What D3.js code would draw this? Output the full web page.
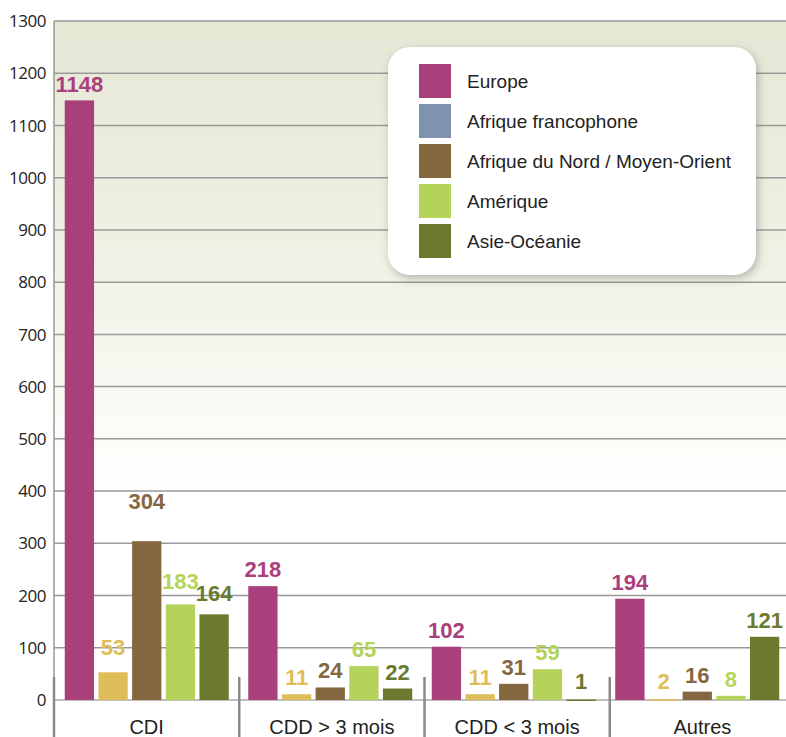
<!DOCTYPE html>
<html>
<head>
<meta charset="utf-8">
<script src="https://cdn.jsdelivr.net/npm/d3@7"></script>
<style>
  body { margin: 0; background: #fff; }
  svg { display: block; }
</style>
</head>
<body>
<svg id="svg" width="786" height="737"></svg>
<script>
(function() {
  'use strict';

  // data
  var categories = ["CDI", "CDD > 3 mois", "CDD < 3 mois", "Autres"];
  var regions = ["Europe", "Afrique francophone", "Afrique du Nord / Moyen-Orient", "Amérique", "Asie-Océanie"];
  var europe   = [1148, 218, 102, 194];
  var afrFranc = [53, 11, 11, 2];
  var afrNord  = [304, 24, 31, 16];
  var amerique = [183, 65, 59, 8];
  var asie     = [164, 22, 1, 121];
  var yTicks = [0, 100, 200, 300, 400, 500, 600, 700, 800, 900, 1000, 1100, 1200, 1300];

  var series = [europe, afrFranc, afrNord, amerique, asie];
  var barColors = ["#a9407c", "#dfbd58", "#84663f", "#b5d35a", "#6b7a2e"];
  var legendColors = ["#a9407c", "#7f93b0", "#84663f", "#b5d35a", "#6b7a2e"];

  // label gap above bar (px), a few were lifted higher in the original
  var labelGapDefault = 9;
  var labelGapCDI = [8, 17, 32, 15, 13];

  var svg = d3.select("#svg");
  var left = 54, top = 21, bottom = 700, right = 786;

  var y = d3.scaleLinear().domain([0, 1300]).range([bottom, top]);
  var x0 = d3.scaleBand().domain(categories).range([55, 789]).paddingInner(0).paddingOuter(0);
  var sep = d3.scaleBand().domain(categories).range([54, 795]);
  var x1 = d3.scaleBand().domain(d3.range(regions.length))
    .range([x0.bandwidth() / 2 - 82, x0.bandwidth() / 2 + 82]).paddingInner(0.13);

  // background gradient
  var defs = svg.append("defs");
  var grad = defs.append("linearGradient").attr("id", "bg")
    .attr("x1", 0).attr("y1", 0).attr("x2", 0).attr("y2", 1);
  grad.append("stop").attr("offset", "0%").attr("stop-color", "#e7e7d6");
  grad.append("stop").attr("offset", "35%").attr("stop-color", "#f0f0e4");
  grad.append("stop").attr("offset", "62%").attr("stop-color", "#fcfcf9");
  grad.append("stop").attr("offset", "70%").attr("stop-color", "#ffffff");
  grad.append("stop").attr("offset", "100%").attr("stop-color", "#ffffff");

  var shadow = defs.append("filter").attr("id", "shadow")
    .attr("x", "-10%").attr("y", "-10%").attr("width", "125%").attr("height", "130%");
  shadow.append("feDropShadow").attr("dx", 2).attr("dy", 3).attr("stdDeviation", 4)
    .attr("flood-color", "#666").attr("flood-opacity", 0.45);

  svg.append("rect").attr("x", left).attr("y", top)
    .attr("width", right - left).attr("height", bottom - top)
    .attr("fill", "url(#bg)");

  // grid lines
  svg.append("g").selectAll("line").data(yTicks).join("line")
    .attr("x1", left).attr("x2", right)
    .attr("y1", function(d) { return y(d); }).attr("y2", function(d) { return y(d); })
    .attr("stroke", function(d) { return d === 0 ? "#aaa" : "#999"; })
    .attr("stroke-width", 1.5);

  // y labels
  svg.append("g").selectAll("text").data(yTicks).join("text")
    .attr("x", 46).attr("y", function(d) { return y(d); })
    .attr("dy", "0.36em")
    .attr("text-anchor", "end")
    .attr("font-family", "'Open Sans', sans-serif")
    .attr("font-size", 17)
    .attr("letter-spacing", -0.5)
    .attr("fill", "#222")
    .text(function(d) { return d; });

  // left axis
  svg.append("line").attr("x1", left).attr("x2", left).attr("y1", top).attr("y2", 678)
    .attr("stroke", "#999").attr("stroke-width", 1.5);

  // group separators
  svg.append("g").selectAll("line").data(categories).join("line")
    .attr("x1", function(d) { return sep(d); }).attr("x2", function(d) { return sep(d); })
    .attr("y1", 677).attr("y2", 737)
    .attr("stroke", "#8a8a8a").attr("stroke-width", 2.5);

  // bars
  var groups = svg.append("g").selectAll("g").data(categories).join("g")
    .attr("transform", function(d) { return "translate(" + x0(d) + ",0)"; });

  groups.each(function(cat, ci) {
    var g = d3.select(this);
    var vals = series.map(function(s, si) { return { si: si, v: s[ci] }; });
    g.selectAll("rect").data(vals).join("rect")
      .attr("x", function(d) { return x1(d.si); })
      .attr("width", x1.bandwidth())
      .attr("y", function(d) { return y(d.v); })
      .attr("height", function(d) { return Math.max(bottom - y(d.v), 1.5); })
      .attr("fill", function(d) { return barColors[d.si]; });
    g.selectAll("text").data(vals).join("text")
      .attr("x", function(d) { return x1(d.si) + x1.bandwidth() / 2; })
      .attr("y", function(d) {
        var gap = ci === 0 ? labelGapCDI[d.si] : labelGapDefault;
        return Math.min(y(d.v), bottom - 2) - gap;
      })
      .attr("text-anchor", "middle")
      .attr("font-family", "'Liberation Sans Narrow', 'Arial Narrow', sans-serif")
      .attr("font-weight", "bold")
      .attr("font-size", 22)
      .attr("fill", function(d) { return barColors[d.si]; })
      .text(function(d) { return d.v; });
  });

  // category labels
  svg.append("g").selectAll("text").data(categories).join("text")
    .attr("x", function(d) { return sep(d) + sep.bandwidth() / 2; })
    .attr("y", 734)
    .attr("text-anchor", "middle")
    .attr("font-family", "'Liberation Sans', sans-serif")
    .attr("font-size", 20)
    .attr("fill", "#222")
    .text(function(d) { return d; });

  // legend
  var legend = svg.append("g").attr("transform", "translate(388,47)");
  legend.append("rect").attr("width", 368).attr("height", 228)
    .attr("rx", 22).attr("fill", "#fff").attr("filter", "url(#shadow)");
  var items = legend.selectAll("g.item").data(regions).join("g")
    .attr("class", "item")
    .attr("transform", function(d, i) { return "translate(31," + (17 + i * 40) + ")"; });
  items.append("rect").attr("width", 32).attr("height", 34)
    .attr("fill", function(d, i) { return legendColors[i]; });
  items.append("text").attr("x", 48).attr("y", 17).attr("dy", "0.36em")
    .attr("font-family", "'Liberation Sans', sans-serif")
    .attr("font-size", 19)
    .attr("fill", "#222")
    .text(function(d) { return d; });
}());
</script>
</body>
</html>
